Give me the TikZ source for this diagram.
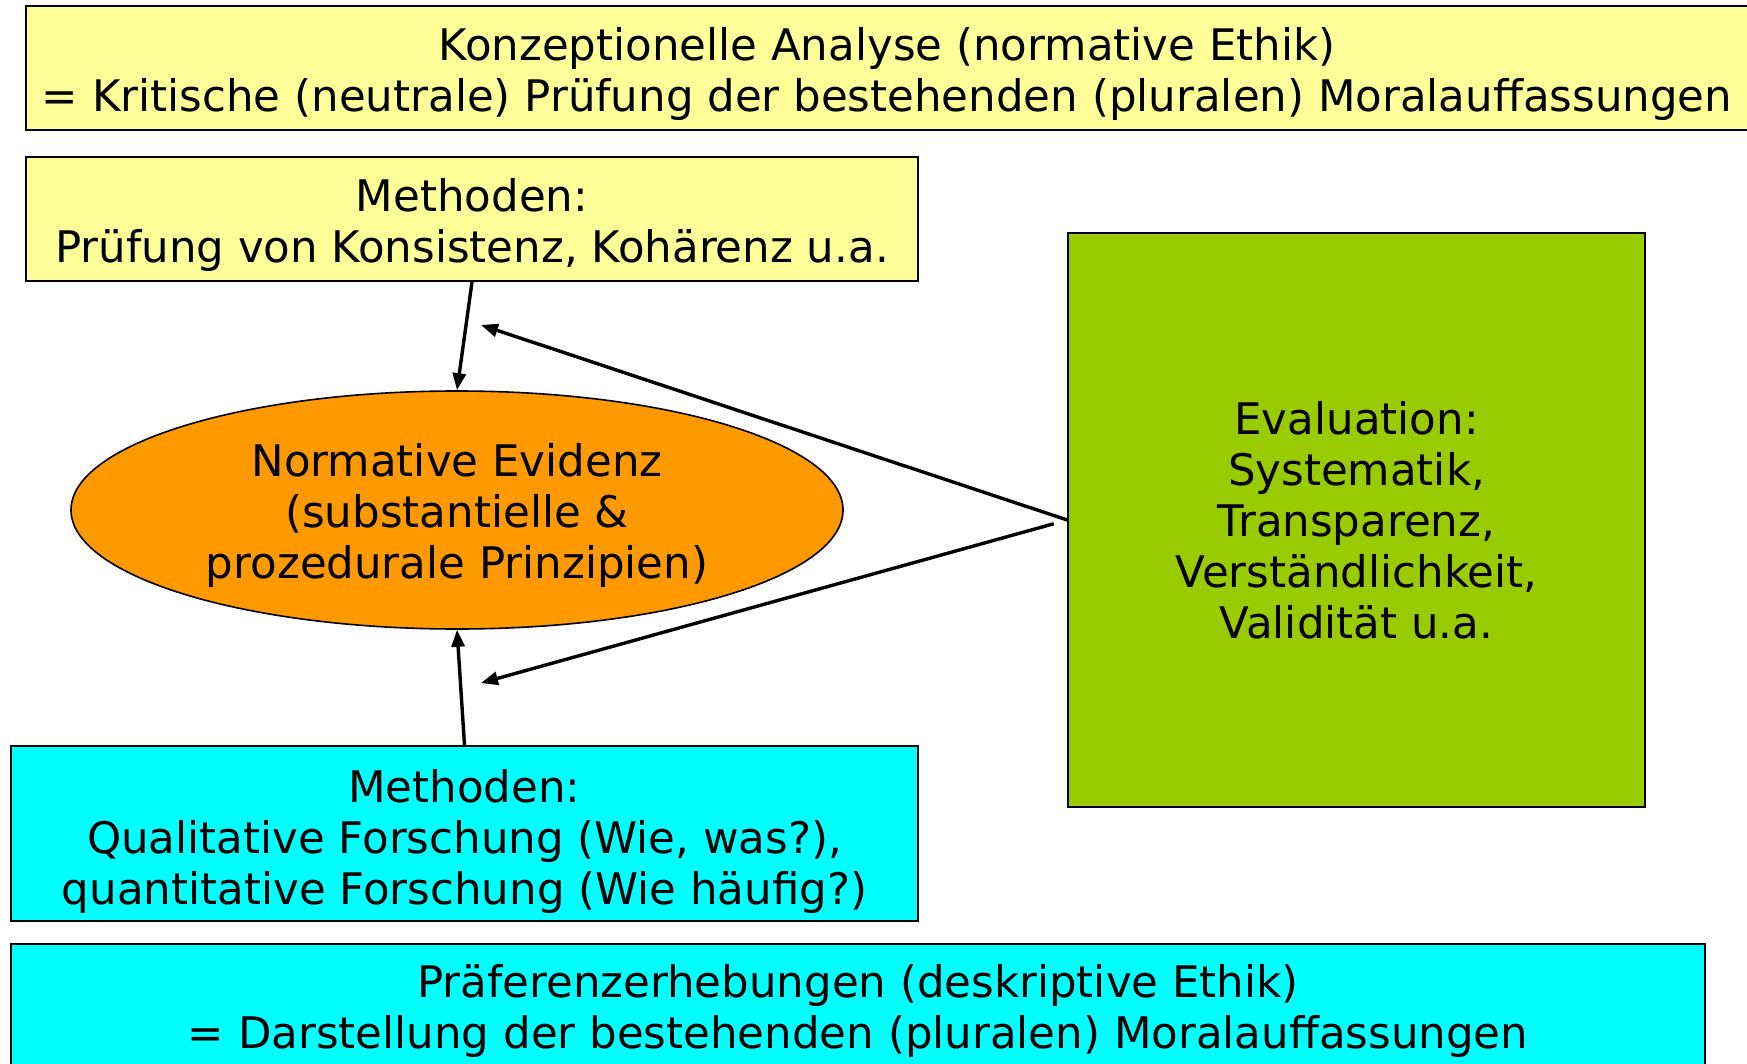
\documentclass[tikz,border=0pt]{standalone}
\usepackage{fontspec}
\setmainfont{DejaVu Sans}
\usetikzlibrary{shapes.geometric,arrows.meta}
\definecolor{lightyellow}{HTML}{FFFF99}
\definecolor{evalgreen}{HTML}{99CC00}
\definecolor{evorange}{HTML}{FF9900}
\definecolor{cyanbox}{HTML}{00FFFF}
\tikzset{
  txt/.style={font=\fontsize{43.5}{51}\selectfont, align=center, inner sep=0pt, text=black},
  boxnode/.style={draw=black, line width=2pt, rectangle, inner sep=0pt},
  evell/.style={draw=black, line width=1.6pt, ellipse, fill=evorange, inner sep=0pt},
  conn/.style={line width=3.4pt, -{Triangle[length=17pt,width=13pt]}}
}
\begin{document}
\begin{tikzpicture}[x=1pt,y=-1pt]
\useasboundingbox (0,0) rectangle (1747,1064);
% shapes
\node[boxnode, fill=lightyellow, minimum width=1736pt, minimum height=124pt] (konz) at (894,68) {};
\node[boxnode, fill=lightyellow, minimum width=892pt, minimum height=124pt] (meth1) at (472,219) {};
\node[boxnode, fill=evalgreen, minimum width=577pt, minimum height=574pt, line width=1.6pt] (eval) at (1356.5,520) {};
\node[evell, minimum width=772pt, minimum height=238pt] (ev) at (457,510) {};
\node[boxnode, fill=cyanbox, minimum width=907pt, minimum height=175pt] (meth2) at (464.5,833.5) {};
\node[boxnode, fill=cyanbox, minimum width=1694pt, minimum height=124pt] (pref) at (858,1006) {};
% texts
\node[txt] (konzt) at (887,74)
  {Konzeptionelle Analyse (normative Ethik)\\= Kritische (neutrale) Prüfung der bestehenden (pluralen) Moralauffassungen};
\node[txt] (meth1t) at (472,225)
  {Methoden:\\Prüfung von Konsistenz, Kohärenz u.a.};
\node[txt] (evalt) at (1356.5,520)
  {Evaluation:\\Systematik,\\Transparenz,\\Verständlichkeit,\\Validität u.a.};
\node[txt] (evt) at (457,515)
  {Normative Evidenz\\(substantielle \&\\prozedurale Prinzipien)};
\node[txt] (meth2t) at (464.5,841)
  {Methoden:\\Qualitative Forschung (Wie, was?),\\quantitative Forschung (Wie häufig?)};
\node[txt] (preft) at (858,1011)
  {Präferenzerhebungen (deskriptive Ethik)\\= Darstellung der bestehenden (pluralen) Moralauffassungen};
% connectors
\coordinate (t2) at (481,325);
\coordinate (t3) at (481,683);
\draw[conn] (meth1.south) -- (ev.north);
\draw[conn] (meth2.north) -- (ev.south);
\draw[conn] (eval.west) -- (t2);
\draw[conn, shorten <=14pt] (eval.west) -- (t3);
\end{tikzpicture}
\end{document}
